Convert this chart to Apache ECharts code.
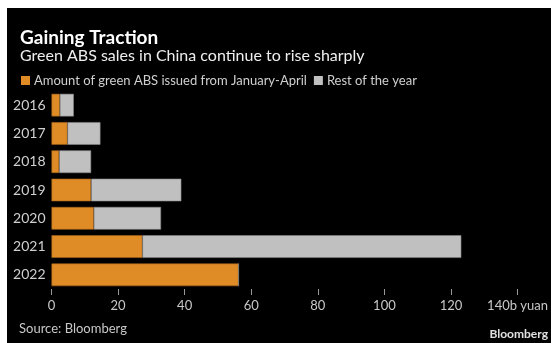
<!DOCTYPE html>
<html>
<head>
<meta charset="utf-8">
<script src="https://cdn.jsdelivr.net/npm/echarts@6/dist/echarts.min.js"></script>
<style>
  html, body { margin: 0; padding: 0; background: #fff; }
  #chart { width: 551px; height: 343px; }
</style>
</head>
<body>
<div id="chart"></div>
<script>
// Green ABS issuance in China, billion yuan
const years = ['2016', '2017', '2018', '2019', '2020', '2021', '2022'];
const janToApril = [2.5, 4.8, 2.3, 11.9, 12.7, 27.3, 56.2];
const restOfYear = [4.2, 9.9, 9.6, 27.1, 20.2, 95.8, 0];
const xTicks = [0, 20, 40, 60, 80, 100, 120, 140];

const FONT = 'Lato, "Open Sans", sans-serif';
const ORANGE = '#df8b26';
const GRAY = '#c0c0c0';

const chart = echarts.init(document.getElementById('chart'), null, { renderer: 'canvas' });

chart.setOption({
  backgroundColor: '#ffffff',
  animation: false,
  textStyle: { fontFamily: FONT },
  graphic: [
    {
      type: 'rect', z: -10, silent: true,
      shape: { x: 7, y: 8, width: 544, height: 335 },
      style: { fill: '#000000' }
    },
    {
      type: 'text', left: 19, top: 322,
      style: { text: 'Source: Bloomberg', fill: '#c8c8c8', font: '13px ' + FONT }
    },
    {
      type: 'text', right: 3, top: 328,
      style: { text: 'Bloomberg', fill: '#e0e0e0', font: 'bold 12px ' + FONT }
    }
  ],
  title: {
    text: 'Gaining Traction',
    subtext: 'Green ABS sales in China continue to rise sharply',
    left: 15, top: 23,
    itemGap: 1,
    textStyle: { color: '#ffffff', fontSize: 19, fontWeight: 'bold', fontFamily: FONT },
    subtextStyle: { color: '#eeeeee', fontSize: 16, fontFamily: FONT }
  },
  legend: {
    left: 16, top: 69,
    icon: 'rect', itemWidth: 9, itemHeight: 9, itemGap: 7,
    itemStyle: { borderWidth: 0 },
    textStyle: { color: '#d0d0d0', fontSize: 13, fontFamily: FONT, padding: [0, 0, 0, -1] },
    data: ['Amount of green ABS issued from January-April', 'Rest of the year']
  },
  grid: { left: 51.5, right: 31, top: 91, bottom: 54, containLabel: false },
  xAxis: {
    type: 'value', min: xTicks[0], max: xTicks[xTicks.length - 1], interval: 20,
    splitLine: { show: false },
    axisLine: { show: false },
    axisTick: { show: true, length: 6, lineStyle: { color: '#999999', width: 1 } },
    axisLabel: {
      color: '#c8c8c8', fontSize: 13, margin: 10, fontFamily: FONT,
      formatter: v => (v === 140 ? '140b yuan' : String(v))
    }
  },
  yAxis: {
    type: 'category', data: years, inverse: true,
    axisLine: { show: false }, axisTick: { show: false },
    axisLabel: { color: '#d0d0d0', fontSize: 14, margin: 6, fontFamily: FONT }
  },
  series: [
    {
      name: 'Amount of green ABS issued from January-April',
      type: 'bar', stack: 'total', data: janToApril,
      barCategoryGap: '20%',
      itemStyle: { color: ORANGE, borderColor: '#a8651c', borderWidth: 0.6 }
    },
    {
      name: 'Rest of the year',
      type: 'bar', stack: 'total', data: restOfYear,
      barCategoryGap: '20%',
      itemStyle: { color: GRAY, borderColor: '#8a8a8a', borderWidth: 0.6 }
    }
  ]
});
</script>
</body>
</html>
